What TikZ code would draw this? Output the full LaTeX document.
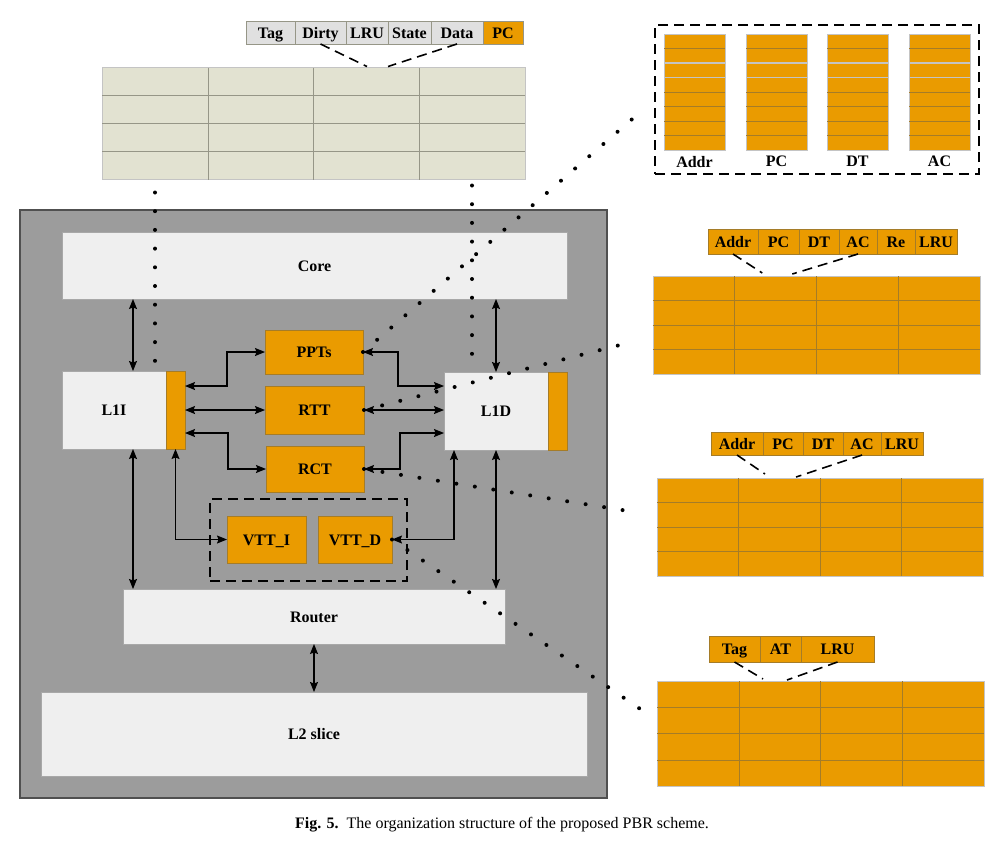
\documentclass[tikz,border=0pt]{standalone}
\usepackage{fontspec}
\setmainfont{Liberation Serif}
\usepackage{tikz}
\usetikzlibrary{calc,positioning}
\usetikzlibrary{arrows.meta}
\definecolor{chipgray}{RGB}{156,156,156}
\definecolor{chipline}{RGB}{80,80,80}
\definecolor{boxfill}{RGB}{239,239,239}
\definecolor{boxline}{RGB}{168,168,168}
\definecolor{pbrorange}{RGB}{234,155,0}
\definecolor{orangeline}{RGB}{165,124,40}
\definecolor{lightline}{RGB}{196,196,196}
\definecolor{tagfill}{RGB}{226,226,209}
\definecolor{tagline}{RGB}{150,150,135}
\definecolor{hdrfill}{RGB}{224,224,224}
\newcommand{\lblfont}{\fontsize{16}{19}\selectfont\bfseries}
\tikzset{>={Stealth[length=10pt,width=8pt,inset=1.5pt]}}
\tikzset{blk/.style = {draw=boxline, fill=boxfill, rectangle, inner sep=0pt,
                  outer sep=0pt, text height=11pt, text depth=0pt, font=\lblfont},
        oblk/.style = {blk, draw=orangeline, fill=pbrorange},
        hcell/.style = {oblk, minimum height=23},
        otab/.style = {draw=lightline, fill=pbrorange, inner sep=0pt, outer sep=0pt},
        dbox/.style = {draw, dash pattern=on 10pt off 6pt, line width=1.8pt,
                  inner sep=0pt, outer sep=0pt},
        hdash/.style = {dash pattern=on 10pt off 6pt, line width=1.6pt},
        dotline/.style = {line width=4pt, line cap=round, dash pattern=on 0pt off 18.7pt}
    }
% grid lines of a table node: name, columns, rows, line style
\newcommand{\tabgrid}[4]{%
  \foreach \ci in {1,...,#2}{\ifnum\ci<#2\relax
    \draw[#4] ($(#1.north west)!\ci/#2!(#1.north east)$) -- ($(#1.south west)!\ci/#2!(#1.south east)$);\fi}%
  \foreach \ri in {1,...,#3}{\ifnum\ri<#3\relax
    \draw[#4] ($(#1.north west)!\ri/#3!(#1.south west)$) -- ($(#1.north east)!\ri/#3!(#1.south east)$);\fi}%
}
\begin{document}
\begin{tikzpicture}[x=1pt,y=-1pt]
    \path[fill=white, use as bounding box] (0,0) rectangle (1007,844);

    % processor tile
    \node[draw=chipline, fill=chipgray, line width=1.2pt, inner sep=0pt, outer sep=0pt,
          minimum width=587, minimum height=588] (chip) at (313.5,504) {};
    \node[blk, minimum width=505, minimum height=67] (core) at (314.5,265.5) {Core};
    \node[blk, minimum width=104, minimum height=78] (l1i) at (114,410) {L1I};
    \node[oblk, minimum width=19, minimum height=78] (l1is) at (175.5,410) {};
    \node[blk, minimum width=104, minimum height=78] (l1d) at (496,411) {L1D};
    \node[oblk, minimum width=19, minimum height=78] (l1ds) at (557.5,411) {};
    \node[oblk, minimum width=98, minimum height=44] (ppts) at (314,352) {PPTs};
    \node[oblk, minimum width=99, minimum height=48] (rtt) at (314.5,410) {RTT};
    \node[oblk, minimum width=98, minimum height=46] (rct) at (315,469) {RCT};
    \node[dbox, minimum width=197, minimum height=82] (vbox) at (308.5,540) {};
    \node[oblk, minimum width=79, minimum height=47] (vtti) at (266.5,539.5) {VTT\_I};
    \node[oblk, minimum width=74, minimum height=47] (vttd) at (355,539.5) {VTT\_D};
    \node[blk, minimum width=382, minimum height=55] (router) at (314,616.5) {Router};
    \node[blk, minimum width=546, minimum height=84] (l2) at (314,734) {L2 slice};

    \begin{scope}[line width=1.1pt]
      \draw[<->] ($(l1i.north)+(19,0)$) -- ($(l1i.north |- core.south)+(19,0)$);
      \draw[<->] (l1d.north) -- (l1d.north |- core.south);
      \draw[<->] ($(l1i.south)+(19,0)$) -- ($(l1i.south |- router.north)+(19,0)$);
      \draw[<->] (l1d.south) -- (l1d.south |- router.north);
      \draw[<->] (router.south) -- (l2.north);

      \draw[<->] ($(l1is.east)+(0,-24)$) -| ($(ppts.west)+(-38,0)$) -- (ppts.west);
      \draw[<->] (l1is.east) -- (rtt.west);
      \draw[<->] ($(l1is.east)+(0,23)$) -| ($(rct.west)+(-38,0)$) -- (rct.west);
      \draw[<->] (l1is.south) |- (vtti.west);

      \draw[<->] (ppts.east) -| ($(l1d.west)+(-46,-25)$) -- ($(l1d.west)+(0,-25)$);
      \draw[<->] (rtt.east) -- (rtt.east -| l1d.west);
      \draw[<->] (rct.east) -| ($(l1d.west)+(-44,22)$) -- ($(l1d.west)+(0,22)$);
      \draw[<->] (vttd.east) -| ($(l1d.south west)+(10,0)$);
    \end{scope}

    % L1 tag array
    \node[draw=lightline, fill=tagfill, inner sep=0pt, outer sep=0pt,
          minimum width=423, minimum height=112] (ttab) at (313.5,123.5) {};
    \tabgrid{ttab}{4}{4}{tagline}
    \foreach \xa/\xb/\txt/\fc [count=\k] in {246/295/Tag/hdrfill, 295/346/Dirty/hdrfill,
        346/388/LRU/hdrfill, 388/431/State/hdrfill, 431/483/Data/hdrfill, 483/523/PC/pbrorange}
      \node[hcell, draw=tagline, fill=\fc, minimum width=\xb-\xa] (ta\k) at ({(\xa+\xb)/2},32.5) {\txt};
    \draw[hdash] (ta2.south) -- ($(ttab.north)+(53.5,-1)$);
    \draw[hdash] (ta5.south) -- ($(ttab.north)+(74.5,-1)$);

    % PC table
    \node[dbox, minimum width=324, minimum height=149] (pcbox) at (817,99.5) {};
    \foreach \cx/\txt [count=\k] in {694.5/Addr, 776.5/PC, 857.5/DT, 939.5/AC} {
      \node[otab, minimum width=61, minimum height=116] (pc\k) at (\cx,92) {};
      \tabgrid{pc\k}{1}{8}{orangeline}
      \draw[lightline, line width=1.2pt] ($(pc\k.north west)!2/8!(pc\k.south west)$) -- ($(pc\k.north east)!2/8!(pc\k.south east)$);
      \draw[lightline, line width=1.2pt] ($(pc\k.north west)!3/8!(pc\k.south west)$) -- ($(pc\k.north east)!3/8!(pc\k.south east)$);
      \node[font=\lblfont, inner sep=0pt, below=6pt of pc\k] (pcl\k) {\txt};
    }

    % RTT entries
    \node[otab, minimum width=327, minimum height=98] (tab2) at (816.3,325) {};
    \tabgrid{tab2}{4}{4}{orangeline}
    \foreach \xa/\xb/\txt [count=\k] in {708/758/Addr, 758/799/PC, 799/839/DT,
        839/877/AC, 877/915/Re, 915/957/LRU}
      \node[hcell, minimum width=\xb-\xa, minimum height=25] (tb\k) at ({(\xa+\xb)/2},241.5) {\txt};
    \draw[hdash] (tb1.south) -- ($(tab2.north)+(-54,-3)$);
    \draw[hdash] (tb4.south) -- ($(tab2.north)+(-24,-2)$);

    % RCT entries
    \node[otab, minimum width=326, minimum height=98] (tab3) at (820,527) {};
    \tabgrid{tab3}{4}{4}{orangeline}
    \foreach \xa/\xb/\txt [count=\k] in {711/763/Addr, 763/803/PC, 803/843/DT,
        843/881/AC, 881/923/LRU}
      \node[hcell, minimum width=\xb-\xa] (tc\k) at ({(\xa+\xb)/2},443.5) {\txt};
    \draw[hdash] (tc1.south) -- ($(tab3.north)+(-55,-4)$);
    \draw[hdash] (tc4.south) -- ($(tab3.north)+(-24,-1)$);

    % VTT entries
    \node[otab, minimum width=327, minimum height=105] (tab4) at (820.5,733.5) {};
    \tabgrid{tab4}{4}{4}{orangeline}
    \foreach \xa/\xb/\txt [count=\k] in {709/760/Tag, 760/801/AT, 801/874/LRU}
      \node[hcell, minimum width=\xb-\xa, minimum height=26] (td\k) at ({(\xa+\xb)/2},649) {\txt};
    \draw[hdash] (td1.south) -- ($(tab4.north)+(-57.5,-2)$);
    \draw[hdash] (td3.south) -- ($(tab4.north)+(-33.5,-1)$);

    % dotted links
    \draw[dotline] ($(ttab.south west)+(53,13)$) -- ($(l1i.north west)+(93,-10)$);
    \draw[dotline] ($(ttab.south west)+(370,6)$) -- ($(l1d.north west)+(28,0)$);
    \draw[dotline] (ppts.east) -- ($(pcbox.west)+(-10,8.5)$);
    \draw[dotline] (rtt.east) -- ($(tab2.west)+(-17,16)$);
    \draw[dotline] (rct.east) -- ($(tab3.west)+(-16,-14)$);
    \draw[dotline] (vttd.east) -- ($(tab4.west)+(-8,-18.5)$);

    \node[font=\fontsize{16}{19}\selectfont, inner sep=0pt] (cap) at (502,825)
      {\textbf{Fig. 5.}\enspace The organization structure of the proposed PBR scheme.};
\end{tikzpicture}
\end{document}
